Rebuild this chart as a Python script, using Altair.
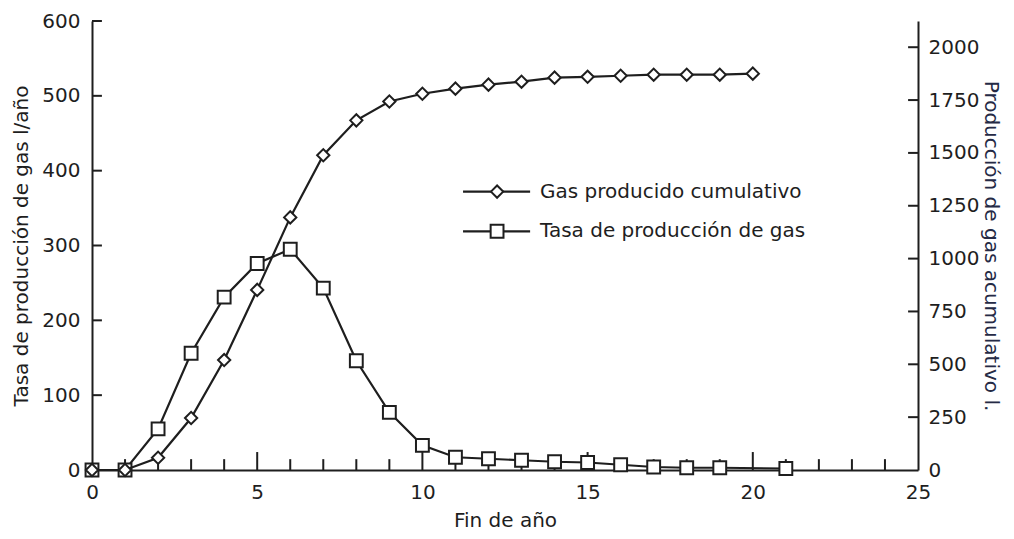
import altair as alt
import pandas as pd

# ---- data ----
rate_years = [0, 1, 2, 3, 4, 5, 6, 7, 8, 9, 10, 11, 12, 13, 14, 15, 16, 17, 18, 19, 21]
rate_values = [0, 0, 55, 156, 231, 276, 295, 243, 146, 77, 33, 17, 15, 13, 11, 10, 7, 4, 3, 3, 2]

cum_years = list(range(0, 21))
cum_values = [0, 0, 58, 246, 520, 852, 1195, 1489, 1654, 1743, 1780, 1804, 1823,
              1837, 1856, 1860, 1865, 1870, 1870, 1870, 1875]

x_tick_labels = [0, 5, 10, 15, 20, 25]
left_tick_labels = [0, 100, 200, 300, 400, 500, 600]
right_tick_labels = [0, 250, 500, 750, 1000, 1250, 1500, 1750, 2000]
legend_labels = ["Gas producido cumulativo", "Tasa de producción de gas"]

INK = "#1e1e1e"
FONT = "DejaVu Sans"
W, H = 826, 449

rate_df = pd.DataFrame({"year": rate_years, "rate": rate_values})
cum_df = pd.DataFrame({"year": cum_years, "cum": cum_values})

xscale = alt.Scale(domain=[0, 25], nice=False, zero=False)
lscale = alt.Scale(domain=[0, 600], nice=False)
rscale = alt.Scale(domain=[0, 2124], nice=False)

x_axis = alt.Axis(values=x_tick_labels, title="Fin de año", titlePadding=8,
                  labelFlush=False, format="d")
l_axis = alt.Axis(values=left_tick_labels, title="Tasa de producción de gas l/año",
                  titlePadding=10, labelFlush=False, format="d")
r_axis = alt.Axis(orient="right", values=right_tick_labels,
                  title="Producción de gas acumulativo l.", titleColor="#252a45",
                  titlePadding=2, labelPadding=10, labelFlush=False, format="d")

# ---- left (rate) group ----
rate_line = alt.Chart(rate_df).mark_line(color=INK, strokeWidth=2.2).encode(
    x=alt.X("year:Q", scale=xscale, axis=x_axis),
    y=alt.Y("rate:Q", scale=lscale, axis=l_axis),
)
rate_pts = alt.Chart(rate_df).mark_point(shape="square", size=165, filled=True,
                                         fill="white", stroke=INK, strokeWidth=2,
                                         opacity=1).encode(
    x=alt.X("year:Q"),
    y=alt.Y("rate:Q"),
)

# inward ticks on the x axis (minor every year, longer every 5)
xt_years = list(range(1, 25))
xt_df = pd.DataFrame({"year": xt_years,
                      "y0": [0] * len(xt_years),
                      "y1": [24 if yv % 5 == 0 else 14.5 for yv in xt_years]})
x_ticks = alt.Chart(xt_df).mark_rule(color=INK, strokeWidth=2).encode(
    x=alt.X("year:Q"), y=alt.Y("y0:Q"), y2="y1:Q")

lt_vals = left_tick_labels[1:]
lt_df = pd.DataFrame({"v": lt_vals, "x0": [0] * len(lt_vals), "x1": [0.3] * len(lt_vals)})
l_ticks = alt.Chart(lt_df).mark_rule(color=INK, strokeWidth=2).encode(
    x=alt.X("x0:Q"), x2="x1:Q", y=alt.Y("v:Q"))

# legend (drawn in the left-axis units)
leg_y = [372, 319]
leg_df = pd.DataFrame({"label": legend_labels, "ly": leg_y,
                       "x0": [11.23, 11.23], "x1": [13.26, 13.26],
                       "xm": [12.26, 12.26], "xt": [13.56, 13.56],
                       "shape": ["diamond", "square"]})
leg_rule = alt.Chart(leg_df).mark_rule(color=INK, strokeWidth=2.2).encode(
    x=alt.X("x0:Q"), x2="x1:Q", y=alt.Y("ly:Q"))
leg_diamond = alt.Chart(leg_df).transform_filter(alt.datum.shape == "diamond").mark_point(
    shape="diamond", size=150, filled=True, fill="white", stroke=INK, strokeWidth=2,
    opacity=1).encode(x=alt.X("xm:Q"), y=alt.Y("ly:Q"))
leg_square = alt.Chart(leg_df).transform_filter(alt.datum.shape == "square").mark_point(
    shape="square", size=165, filled=True, fill="white", stroke=INK, strokeWidth=2,
    opacity=1).encode(x=alt.X("xm:Q"), y=alt.Y("ly:Q"))
leg_text = alt.Chart(leg_df).mark_text(align="left", baseline="middle", font=FONT,
                                       fontSize=20, color=INK).encode(
    x=alt.X("xt:Q"), y=alt.Y("ly:Q"), text="label:N")

left = alt.layer(rate_line, x_ticks, l_ticks, rate_pts, leg_rule, leg_diamond,
                 leg_square, leg_text)

# ---- right (cumulative) group ----
cum_line = alt.Chart(cum_df).mark_line(color=INK, strokeWidth=2.2).encode(
    x=alt.X("year:Q", scale=xscale),
    y=alt.Y("cum:Q", scale=rscale, axis=r_axis),
)
cum_pts = alt.Chart(cum_df).mark_point(shape="diamond", size=150, filled=True,
                                       fill="white", stroke=INK, strokeWidth=2,
                                       opacity=1).encode(
    x=alt.X("year:Q"),
    y=alt.Y("cum:Q"),
)
rt_vals = right_tick_labels[1:]
rt_df = pd.DataFrame({"v": rt_vals, "x0": [24.7] * len(rt_vals), "x1": [25] * len(rt_vals)})
r_ticks = alt.Chart(rt_df).mark_rule(color=INK, strokeWidth=2).encode(
    x=alt.X("x0:Q"), x2="x1:Q", y=alt.Y("v:Q"))

right = alt.layer(cum_line, r_ticks, cum_pts)

chart = alt.layer(left, right).resolve_scale(y="independent").properties(
    width=W, height=H,
    autosize=alt.AutoSizeParams(type="none"),
    padding={"left": 84, "top": 13, "right": 88, "bottom": 66},
    background="white",
).configure_view(strokeWidth=0).configure_axis(
    ticks=False, grid=False, domain=True, domainColor=INK, domainWidth=2,
    labelFont=FONT, labelFontSize=20, labelColor=INK, labelPadding=12,
    titleFont=FONT, titleFontSize=20, titleFontWeight="normal", titleColor=INK,
)

chart.save("out.html", embed_options={"renderer": "svg", "actions": False})
